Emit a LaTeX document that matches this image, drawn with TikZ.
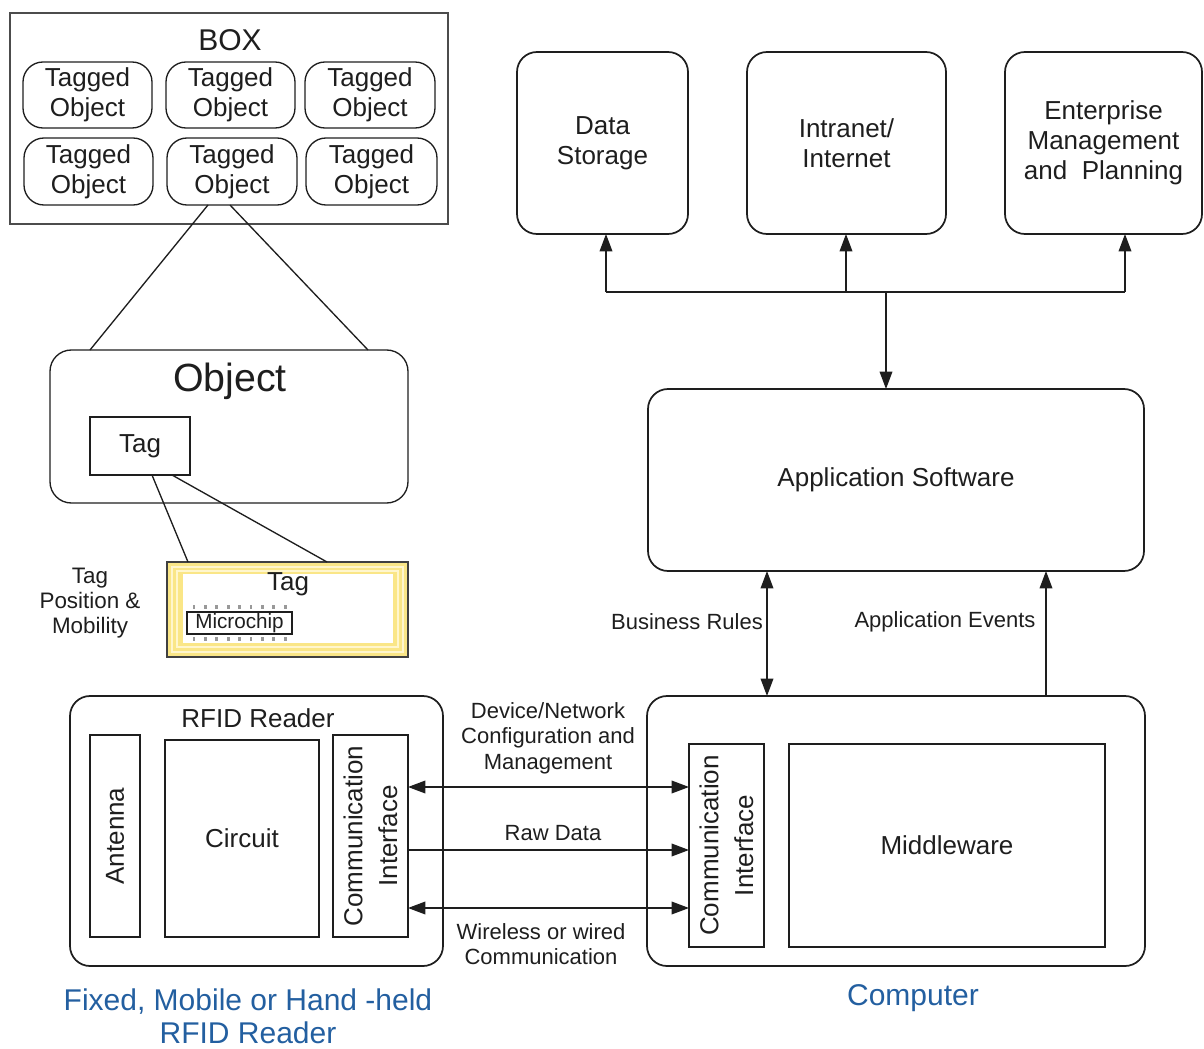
\documentclass[tikz,border=0pt]{standalone}
\usepackage{fontspec}
\setmainfont{Liberation Sans}
\usetikzlibrary{arrows.meta,calc}
\definecolor{capblue}{RGB}{35,95,160}
\definecolor{tagyel}{RGB}{250,230,135}
\definecolor{tagline}{RGB}{255,246,205}
\definecolor{lc}{RGB}{30,30,30}
\newcommand\fs[2]{\fontsize{#1}{#2}\selectfont}
\newcommand\bx[7]{\node[#1, minimum width={(#4-(#2))*0.75pt}, minimum height={(#5-(#3))*0.75pt}] (#6) at ({((#2)+(#4))/2},{((#3)+(#5))/2}) {#7};}
\begin{document}
\begin{tikzpicture}[x=0.75pt,y=-0.75pt,
  every node/.style={font=\fs{19.5}{22.5}, text=lc, align=center},
  base/.style={draw=lc, line width=1.3pt, inner sep=0pt, outer sep=0pt},
  rbox/.style={base, rounded corners=15pt},
  sbox/.style={base, line width=1pt},
  lbl/.style={font=\fs{16.5}{19}},
  >={Triangle[length=13pt,width=9.5pt]},
  conn/.style={draw=lc, line width=1pt}]
\useasboundingbox (0,0) rectangle (1204,1049);

% BOX with tagged objects
\bx{sbox, draw=black!70, line width=1.4pt}{10}{13}{448}{224}{boxo}{}
\node[font=\fs{22.5}{26}] (boxt) at (230,40) {BOX};
\bx{rbox, line width=1pt}{23}{62}{152}{128}{t1}{Tagged\\Object}
\bx{rbox, line width=1pt}{166}{62}{295}{128}{t2}{Tagged\\Object}
\bx{rbox, line width=1pt}{305}{62}{435}{128}{t3}{Tagged\\Object}
\bx{rbox, line width=1pt}{24}{138}{153}{205}{t4}{Tagged\\Object}
\bx{rbox, line width=1pt}{167}{138}{297}{205}{t5}{Tagged\\Object}
\bx{rbox, line width=1pt}{306}{138}{437}{205}{t6}{Tagged\\Object}

% Object
\bx{rbox, line width=1pt, rounded corners=16pt}{50}{350}{408}{503}{obj}{}
\node[font=\fs{29.5}{32}] (objt) at (230,381) {Object};
\bx{sbox}{90}{417}{190}{475}{otag}{Tag}
\draw[conn] ($(t5.south)+(-24,0)$) -- ($(obj.north west)+(40,0)$);
\draw[conn] ($(t5.south)+(-2,0)$) -- ($(obj.north east)+(-40,0)$);

% physical tag
\bx{sbox, fill=tagyel, draw=black!75, line width=1.2pt}{167}{562}{408}{657}{ptag}{}
\draw[tagline, line width=0.9pt] ($(ptag.north west)+(5,5)$) rectangle ($(ptag.south east)+(-5,-5)$);
\draw[tagline, line width=0.9pt] ($(ptag.north west)+(10,9)$) rectangle ($(ptag.south east)+(-10,-10)$);
\fill[white] ($(ptag.north west)+(16,12)$) rectangle ($(ptag.south east)+(-15,-14)$);
\node[font=\fs{19.5}{22}] (ptagt) at (288,584) {Tag};
\foreach \i in {0,...,8} {
  \draw[black!40, line width=2.2pt] ({194+\i*11.4},605) -- ({194+\i*11.4},609);
  \draw[black!40, line width=2.2pt] ({194+\i*11.4},637) -- ({194+\i*11.4},641);
}
\bx{sbox, line width=0.9pt, fill=white, font=\fs{15.5}{17}}{187}{612}{292}{634}{chip}{Microchip}
\draw[conn] ($(otag.south west)+(62,0)$) -- ($(ptag.north west)+(21,0)$);
\draw[conn] ($(otag.south west)+(82,0)$) -- ($(ptag.north west)+(160,0)$);
\node[font=\fs{16.8}{18.8}] (tpm) at (90,603) {Tag\\Position \&\\Mobility};

% top boxes
\bx{rbox}{517}{52}{688}{234}{ds}{Data\\Storage}
\bx{rbox}{747}{52}{946}{234}{inet}{Intranet/\\Internet}
\bx{rbox}{1005}{52}{1202}{234}{ent}{Enterprise\\Management\\and\ \ Planning}

% application software
\bx{rbox}{648}{389}{1144}{571}{app}{Application Software}
\coordinate (busL) at (606,292);
\coordinate (busM) at (846,292);
\coordinate (busR) at (1125,292);
\coordinate (busD) at (886,292);
\draw[conn] (busL) -- (busR);
\draw[conn,->] (busL) -- (ds.south -| busL);
\draw[conn,->] (busM) -- (inet.south -| busM);
\draw[conn,->] (busR) -- (ent.south -| busR);
\draw[conn,->] (busD) -- (app.north -| busD);

% RFID reader
\bx{rbox}{70}{696}{443}{966}{reader}{}
\node (readert) at (258,718) {RFID Reader};
\bx{sbox}{90}{735}{140}{937}{ant}{}
\node[rotate=90] (antt) at (ant.center) {Antenna};
\bx{sbox}{165}{740}{319}{937}{circ}{Circuit}
\bx{sbox}{333}{735}{408}{937}{rcomm}{}
\node[rotate=90, font=\fs{19.5}{26}] (rcommt) at (rcomm.center) {Communication\\Interface};

% computer
\bx{rbox}{647}{696}{1145}{966}{comp}{}
\bx{sbox}{689}{744}{764}{947}{ccomm}{}
\node[rotate=90, font=\fs{19.5}{26}] (ccommt) at (ccomm.center) {Communication\\Interface};
\bx{sbox}{789}{744}{1105}{947}{mw}{Middleware}

% reader <-> computer
\coordinate (ya) at (0,787);
\coordinate (yb) at (0,850);
\coordinate (yc) at (0,908);
\draw[conn,<->] (rcomm.east |- ya) -- (ccomm.west |- ya);
\draw[conn,->] (rcomm.east |- yb) -- (ccomm.west |- yb);
\draw[conn,<->] (rcomm.east |- yc) -- (ccomm.west |- yc);
\node[lbl] (l1) at (548,738) {Device/Network\\Configuration and\\Management};
\node[lbl] (l2) at (553,833) {Raw Data};
\node[lbl] (l3) at (541,944) {Wireless or wired\\Communication};

% computer <-> app
\coordinate (brx) at (767,0);
\coordinate (aex) at (1046,0);
\draw[conn,<->] (app.south -| brx) -- (comp.north -| brx);
\draw[conn,->] (comp.north -| aex) -- (app.south -| aex);
\node[lbl] (l4) at (687,622) {Business Rules};
\node[lbl] (l5) at (945,622) {Application Events};

% captions
\node[font=\fs{22.5}{25}, text=capblue] (cap1) at (248,1016) {Fixed, Mobile or Hand -held\\RFID Reader};
\node[font=\fs{22.5}{25}, text=capblue] (cap2) at (913,998) {Computer};
\end{tikzpicture}
\end{document}
